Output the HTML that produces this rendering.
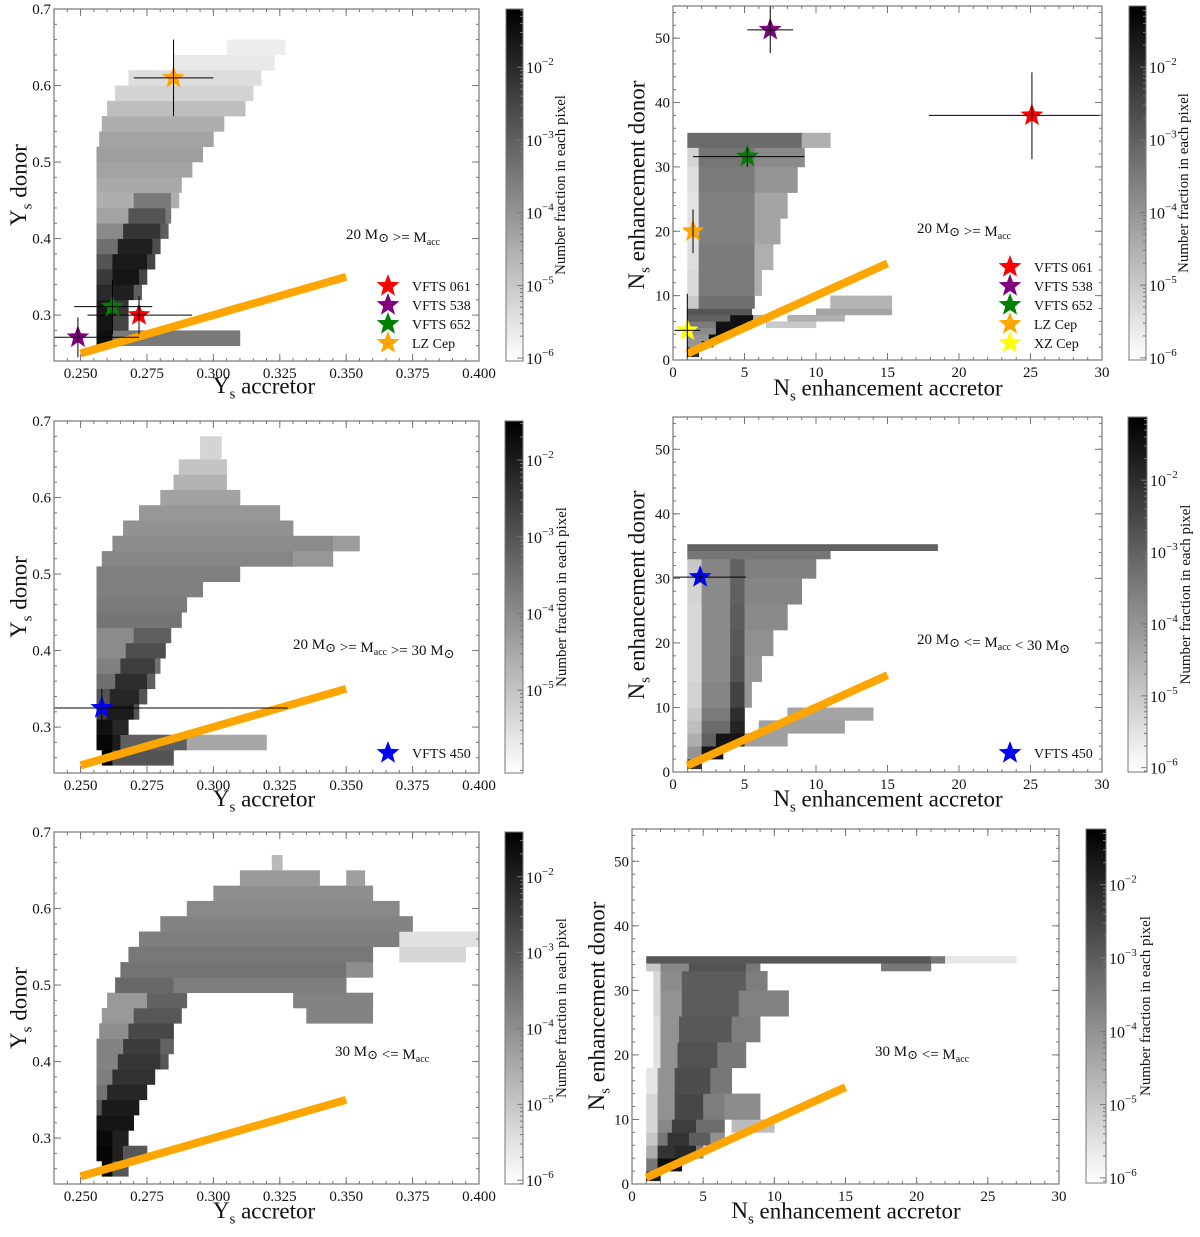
<!DOCTYPE html>
<html><head><meta charset="utf-8"><style>
html,body{margin:0;padding:0;background:#fff;}
svg, svg text{font-family:"Liberation Serif","DejaVu Serif",serif;}
</style></head><body>
<svg id="fig" width="1200" height="1232" viewBox="0 0 1200 1232" font-family="Liberation Serif, DejaVu Serif, serif" xmlns="http://www.w3.org/2000/svg"></svg>
<script>
// ---------- data: heatmap rows [yLo, yHi, [[xLo, xHi, log10 fraction], ...]] ----------
const p1Rows = [
 [0.26,0.28,[[0.256,0.262,-1.5],[0.262,0.31,-3.5]]],
 [0.28,0.30,[[0.256,0.262,-1.6],[0.262,0.268,-2.5]]],
 [0.30,0.32,[[0.256,0.262,-1.7],[0.262,0.268,-2.2]]],
 [0.32,0.34,[[0.256,0.262,-2.0],[0.262,0.270,-1.8],[0.270,0.273,-3.0]]],
 [0.34,0.36,[[0.256,0.262,-2.3],[0.262,0.272,-1.6],[0.272,0.275,-2.5]]],
 [0.36,0.38,[[0.256,0.262,-2.8],[0.262,0.275,-1.7],[0.275,0.278,-2.5]]],
 [0.38,0.40,[[0.256,0.264,-3.3],[0.264,0.277,-1.8],[0.277,0.280,-2.7]]],
 [0.40,0.42,[[0.256,0.266,-3.8],[0.266,0.280,-2.2],[0.280,0.283,-3.0]]],
 [0.42,0.44,[[0.256,0.268,-4.3],[0.268,0.282,-2.8],[0.282,0.284,-3.5]]],
 [0.44,0.46,[[0.256,0.270,-4.5],[0.270,0.284,-3.5],[0.284,0.287,-4.5]]],
 [0.46,0.48,[[0.256,0.288,-4.4]]],
 [0.48,0.50,[[0.256,0.292,-4.3]]],
 [0.50,0.52,[[0.256,0.296,-4.2]]],
 [0.52,0.54,[[0.257,0.300,-4.3]]],
 [0.54,0.56,[[0.258,0.304,-4.5]]],
 [0.56,0.58,[[0.260,0.312,-4.8]]],
 [0.58,0.60,[[0.263,0.315,-5.2]]],
 [0.60,0.62,[[0.268,0.318,-5.4]]],
 [0.62,0.64,[[0.285,0.323,-5.6]]],
 [0.64,0.66,[[0.305,0.327,-5.7]]]
];
const p2Rows = [
 [0.5,2,[[1,1.8,-2.0]]],
 [2,3,[[1,2,-4.0],[2,2.8,-1.5]]],
 [3,4,[[1,2.5,-4.0],[2.5,3.6,-1.5]]],
 [4,5,[[1,3,-3.8],[3,4.4,-1.4]]],
 [5,6,[[1,3,-3.5],[3,5.2,-1.5],[6.5,10,-5.0]]],
 [6,7,[[1,4,-3.0],[4,5.6,-1.5],[5.6,6.6,-4.5],[8,12,-4.5]]],
 [7,8,[[1,5.5,-2.8],[10,15.3,-4.3]]],
 [8,10,[[1,1.8,-5.0],[1.8,5.7,-3.3],[11,15.3,-4.6]]],
 [10,14,[[1,1.8,-5.3],[1.8,5.7,-3.5],[5.7,6.2,-4.5]]],
 [14,18,[[1,1.8,-5.4],[1.8,5.7,-3.5],[5.7,7,-4.5]]],
 [18,22,[[1,1.8,-5.5],[1.8,5.7,-3.6],[5.7,7.5,-4.3]]],
 [22,26,[[1,1.8,-5.5],[1.8,5.7,-3.6],[5.7,8,-4.3]]],
 [26,30,[[1,1.8,-5.4],[1.8,5.7,-3.5],[5.7,8.7,-4.0]]],
 [30,33,[[1,1.8,-5.2],[1.8,5.7,-3.4],[5.7,9.2,-3.8]]],
 [33,35.3,[[1,9,-3.2],[9,11,-4.5]]]
];
const p3Rows = [
 [0.25,0.27,[[0.258,0.262,-1.5],[0.262,0.285,-3.0]]],
 [0.27,0.29,[[0.256,0.262,-1.6],[0.262,0.265,-2.0],[0.265,0.29,-3.2],[0.29,0.32,-4.5]]],
 [0.29,0.31,[[0.256,0.262,-1.8],[0.262,0.268,-2.2]]],
 [0.31,0.33,[[0.256,0.260,-2.5],[0.260,0.270,-2.0],[0.270,0.272,-3.0]]],
 [0.33,0.35,[[0.256,0.261,-3.0],[0.261,0.272,-2.2],[0.272,0.275,-3.0]]],
 [0.35,0.37,[[0.256,0.263,-3.5],[0.263,0.275,-2.3],[0.275,0.278,-3.2]]],
 [0.37,0.39,[[0.256,0.265,-3.8],[0.265,0.278,-2.6],[0.278,0.280,-3.5]]],
 [0.39,0.41,[[0.256,0.267,-4.0],[0.267,0.282,-2.9]]],
 [0.41,0.43,[[0.256,0.270,-4.0],[0.270,0.284,-3.2]]],
 [0.43,0.45,[[0.256,0.288,-3.6]]],
 [0.45,0.47,[[0.256,0.290,-3.7]]],
 [0.47,0.49,[[0.256,0.296,-3.8]]],
 [0.49,0.51,[[0.256,0.310,-3.8]]],
 [0.51,0.53,[[0.258,0.330,-3.9],[0.330,0.345,-4.2]]],
 [0.53,0.55,[[0.262,0.345,-4.0],[0.345,0.355,-4.3]]],
 [0.55,0.57,[[0.266,0.330,-4.1]]],
 [0.57,0.59,[[0.272,0.325,-4.2]]],
 [0.59,0.61,[[0.280,0.310,-4.4]]],
 [0.61,0.63,[[0.285,0.305,-4.7]]],
 [0.63,0.65,[[0.287,0.305,-5.0]]],
 [0.65,0.68,[[0.295,0.303,-5.3]]]
];
const p4Rows = [
 [0.5,2,[[1,2,-2.0]]],
 [2,4,[[1,2,-4.0],[2,3.5,-1.5]]],
 [4,6,[[1,2,-4.5],[2,3,-3.0],[3,5,-1.5],[5,8,-4.2]]],
 [6,8,[[1,2,-4.8],[2,4,-3.2],[4,5,-1.8],[6,12,-4.2]]],
 [8,10,[[1,2,-5.0],[2,4,-3.5],[4,5,-2.0],[8,14,-4.3]]],
 [10,14,[[1,2,-5.2],[2,4,-3.7],[4,5,-2.4],[5,5.5,-4.0]]],
 [14,18,[[1,2,-5.3],[2,4,-3.8],[4,5,-2.7],[5,6.2,-4.0]]],
 [18,22,[[1,2,-5.3],[2,4,-3.8],[4,5,-2.8],[5,7,-3.9]]],
 [22,26,[[1,2,-5.3],[2,4,-3.8],[4,5,-2.9],[5,8,-3.8]]],
 [26,30,[[1,2,-5.2],[2,4,-3.8],[4,5,-3.0],[5,9,-3.7]]],
 [30,33,[[1,2,-5.0],[2,4,-3.7],[4,5,-3.0],[5,10,-3.6]]],
 [33,34.3,[[1,11,-3.4]]],
 [34.3,35.3,[[1,18.5,-3.0]]]
];
const p5Rows = [
 [0.25,0.27,[[0.258,0.262,-1.4],[0.262,0.268,-3.0]]],
 [0.27,0.29,[[0.256,0.262,-1.5],[0.262,0.266,-2.0],[0.266,0.275,-3.0]]],
 [0.29,0.31,[[0.256,0.262,-1.6],[0.262,0.268,-2.0]]],
 [0.31,0.33,[[0.256,0.270,-1.8]]],
 [0.33,0.35,[[0.256,0.258,-3.0],[0.258,0.272,-1.9]]],
 [0.35,0.37,[[0.256,0.260,-3.5],[0.260,0.275,-2.1]]],
 [0.37,0.39,[[0.256,0.262,-3.7],[0.262,0.278,-2.3]]],
 [0.39,0.41,[[0.256,0.264,-3.8],[0.264,0.280,-2.4],[0.280,0.283,-3.0]]],
 [0.41,0.43,[[0.256,0.266,-3.8],[0.266,0.280,-2.5],[0.280,0.285,-3.2]]],
 [0.43,0.45,[[0.257,0.268,-4.0],[0.268,0.285,-2.7]]],
 [0.45,0.47,[[0.258,0.270,-4.2],[0.270,0.288,-3.0],[0.335,0.360,-3.8]]],
 [0.47,0.49,[[0.260,0.275,-4.2],[0.275,0.290,-3.2],[0.330,0.360,-3.8]]],
 [0.49,0.51,[[0.263,0.285,-3.3],[0.285,0.350,-3.7]]],
 [0.51,0.53,[[0.265,0.350,-3.5],[0.350,0.360,-4.0]]],
 [0.53,0.55,[[0.268,0.360,-3.6],[0.370,0.395,-5.3]]],
 [0.55,0.57,[[0.272,0.370,-3.7],[0.370,0.400,-5.5]]],
 [0.57,0.59,[[0.280,0.375,-3.8]]],
 [0.59,0.61,[[0.290,0.370,-3.9]]],
 [0.61,0.63,[[0.300,0.360,-4.0]]],
 [0.63,0.65,[[0.310,0.340,-4.2],[0.350,0.357,-4.3]]],
 [0.65,0.67,[[0.322,0.326,-4.8]]]
];
const p6Rows = [
 [0.5,2,[[1,2,-1.8]]],
 [2,4,[[1,1.8,-3.5],[1.8,3.5,-1.5]]],
 [4,6,[[1,1.8,-4.5],[1.8,3,-2.2],[3,4.5,-2.0],[4.5,5,-3.5]]],
 [6,8,[[1,1.8,-5.0],[1.8,2.5,-3.5],[2.5,4,-2.2],[4,5.5,-3.0],[5.5,6.5,-4.0]]],
 [8,10,[[1,1.8,-5.3],[1.8,2.8,-3.8],[2.8,4.5,-2.4],[4.5,6.5,-3.3],[7,10,-4.8]]],
 [10,14,[[1,1.8,-5.3],[1.8,3,-4.0],[3,5,-2.6],[5,6.5,-3.6],[6.5,9,-3.9]]],
 [14,18,[[1,1.8,-5.6],[1.8,3,-4.0],[3,5.5,-2.7],[5.5,7,-3.5]]],
 [18,22,[[1.5,2,-5.5],[2,3.2,-4.0],[3.2,6,-2.8],[6,8,-3.5]]],
 [22,26,[[1.5,2,-5.5],[2,3.3,-4.0],[3.3,7,-2.9],[7,9,-3.6]]],
 [26,30,[[1.5,2,-5.3],[2,3.5,-4.0],[3.5,7.5,-3.0],[7.5,11,-3.7]]],
 [30,33,[[1.5,2,-5.3],[2,3.5,-3.9],[3.5,8,-3.0],[8,9.5,-3.6]]],
 [33,34.2,[[1,2,-5.0],[2,4,-3.8],[4,8,-2.8],[8,9,-3.5],[17.5,21,-3.5]]],
 [34.2,35.3,[[1,21,-2.9],[21,22,-3.5],[22,27,-5.6]]]
];
// stars: [name, color, x, y, xLo, xHi, yLo, yHi]
const p1Stars = [
 ["VFTS 061","#ff0000",0.272,0.300,0.2526,0.292,0.275,0.325],
 ["VFTS 538","#800080",0.249,0.271,0.240,0.272,0.245,0.297],
 ["VFTS 652","#008000",0.262,0.311,0.2476,0.277,0.275,0.346],
 ["LZ Cep","#ffa500",0.285,0.610,0.270,0.300,0.560,0.660]
];
const p2Stars = [
 ["VFTS 061","#ff0000",25.1,38.0,17.9,30,31.2,44.7],
 ["VFTS 538","#800080",6.8,51.3,5.2,8.4,47.7,55],
 ["VFTS 652","#008000",5.2,31.6,1.4,9.2,30.0,33.0],
 ["LZ Cep","#ffa500",1.4,20.0,1.4,1.4,16.6,23.4],
 ["XZ Cep","#ffff00",1.0,4.6,0.1,1.9,0,10.3]
];
const p3Stars = [["VFTS 450","#0000ff",0.258,0.325,0.240,0.328,0.300,0.350]];
const p4Stars = [["VFTS 450","#0000ff",1.9,30.2,0,5.1,29.5,30.9]];
const yTicksY = [0.3,0.4,0.5,0.6,0.7];
const xTicksY = [0.250,0.275,0.300,0.325,0.350,0.375,0.400];
const yTicksN = [0,10,20,30,40,50];
const xTicksN = [0,5,10,15,20,25,30];
const guideY = [0.25,0.35];
const guideN = [1,15];

const panels = [
 {id:'p1',L:54,R:479,T:9,B:361,x0:0.24,x1:0.40,y0:0.24,y1:0.70,kind:'Y',rows:p1Rows,stars:p1Stars,legend:true,
  cb:{x:506,w:17,T:9,B:361,vmax:-1.2,vmin:-6.04,dec:[-2,-3,-4,-5,-6]},cbl:565,
  ann:{x:346,y:239,t:'ge'},ylab:{x:26,y:185},xlab:{x:264,y:393},legX:388,legY:286},
 {id:'p2',L:673,R:1102,T:6,B:360,x0:0,x1:30,y0:0,y1:55,kind:'N',rows:p2Rows,stars:p2Stars,legend:true,
  cb:{x:1129,w:17,T:6,B:360,vmax:-1.16,vmin:-6.03,dec:[-2,-3,-4,-5,-6]},cbl:1188,
  ann:{x:917,y:233,t:'ge'},ylab:{x:644,y:185},xlab:{x:888,y:395},legX:1010,legY:267},
 {id:'p3',L:54,R:479,T:421,B:773,x0:0.24,x1:0.40,y0:0.24,y1:0.70,kind:'Y',rows:p3Rows,stars:p3Stars,legend:true,
  cb:{x:505,w:18,T:421,B:773,vmax:-1.49,vmin:-6.08,dec:[-2,-3,-4,-5]},cbl:566,
  ann:{x:293,y:649,t:'between1'},ylab:{x:26,y:597},xlab:{x:264,y:806},legX:388,legY:753},
 {id:'p4',L:673,R:1102,T:417,B:772,x0:0,x1:30,y0:0,y1:55,kind:'N',rows:p4Rows,stars:p4Stars,legend:true,
  cb:{x:1128,w:19,T:417,B:772,vmax:-1.12,vmin:-6.06,dec:[-2,-3,-4,-5,-6]},cbl:1190,
  ann:{x:917,y:644,t:'between2'},ylab:{x:644,y:595},xlab:{x:888,y:806},legX:1010,legY:753},
 {id:'p5',L:54,R:479,T:832,B:1184,x0:0.24,x1:0.40,y0:0.24,y1:0.70,kind:'Y',rows:p5Rows,stars:[],legend:false,
  cb:{x:505,w:18,T:832,B:1184,vmax:-1.41,vmin:-6.05,dec:[-2,-3,-4,-5,-6]},cbl:566,
  ann:{x:335,y:1056,t:'le'},ylab:{x:26,y:1008},xlab:{x:264,y:1218},legX:0,legY:0},
 {id:'p6',L:632,R:1059,T:829,B:1184,x0:0,x1:30,y0:0,y1:55,kind:'N',rows:p6Rows,stars:[],legend:false,
  cb:{x:1086,w:20,T:829,B:1183,vmax:-1.24,vmin:-6.07,dec:[-2,-3,-4,-5,-6]},cbl:1150,
  ann:{x:875,y:1056,t:'le'},ylab:{x:604,y:1006},xlab:{x:846,y:1218},legX:0,legY:0}
];

const NS='http://www.w3.org/2000/svg';
const FONT='Liberation Serif, DejaVu Serif, serif';
const svg=document.getElementById('fig');
function mk(tag,attrs,parent){const e=document.createElementNS(NS,tag);for(const k in attrs)e.setAttribute(k,attrs[k]);if(tag==='text')e.setAttribute('font-family',FONT);(parent||svg).appendChild(e);return e;}
function starPath(cx,cy,r){let d='';for(let i=0;i<10;i++){const rr=i%2?r*0.42:r;const a=-Math.PI/2+i*Math.PI/5;d+=(i?'L':'M')+(cx+rr*Math.cos(a)).toFixed(1)+','+(cy+rr*Math.sin(a)).toFixed(1);}return d+'Z';}
function gray(v,c){let t=(v-c.vmin)/(c.vmax-c.vmin);t=Math.max(0,Math.min(1,t));const g=Math.round(255*(1-t));return 'rgb('+g+','+g+','+g+')';}
function sub(textEl,main,s,size){textEl.appendChild(document.createTextNode(main));const ts=mk('tspan',{'font-size':size,'dy':size*0.35},textEl);ts.textContent=s;return ts;}

let gid=0;
panels.forEach(p=>{
 const g=mk('g',{});
 
 
 const sx=v=>p.L+(v-p.x0)/(p.x1-p.x0)*(p.R-p.L);
 const sy=v=>p.B-(v-p.y0)/(p.y1-p.y0)*(p.B-p.T);
 const hm=mk('g',{},g);
 
 
 p.rows.forEach(r=>{r[2].forEach(s=>{
  const x=sx(s[0]),w=sx(s[1])-sx(s[0]),y=sy(r[1]),h=sy(r[0])-sy(r[1]);
  const c=mk('rect',{x:x.toFixed(1),y:y.toFixed(1),width:(w+0.3).toFixed(1),height:(h+0.3).toFixed(1),fill:gray(s[2],p.cb)},hm);
  
  
 });});
 const gd=p.kind==='Y'?guideY:guideN;
 const ln=mk('line',{x1:sx(gd[0]),y1:sy(gd[0]),x2:sx(gd[1]),y2:sy(gd[1]),stroke:'#ffa500','stroke-width':8},g);
 
 
 p.stars.forEach(s=>{
  const sg=mk('g',{},g);
  
  
  mk('path',{d:starPath(sx(s[2]),sy(s[3]),12),fill:s[1]},sg);
  mk('line',{x1:sx(s[4]),y1:sy(s[3]),x2:sx(s[5]),y2:sy(s[3]),stroke:'#000','stroke-width':1},sg);
  mk('line',{x1:sx(s[2]),y1:sy(s[6]),x2:sx(s[2]),y2:sy(s[7]),stroke:'#000','stroke-width':1},sg);
 });
 const fr=mk('rect',{x:p.L,y:p.T,width:p.R-p.L,height:p.B-p.T,fill:'none',stroke:'#777','stroke-width':1.2},g);
 
 
 const xt=p.kind==='Y'?xTicksY:xTicksN, yt=p.kind==='Y'?yTicksY:yTicksN;
 const xmin=p.kind==='Y'?0.005:1, ymin=p.kind==='Y'?0.02:2;
 for(let v=p.x0;v<=p.x1+1e-9;v+=xmin){const X=sx(v);mk('line',{x1:X,y1:p.B,x2:X,y2:p.B-3,stroke:'#777'},g);mk('line',{x1:X,y1:p.T,x2:X,y2:p.T+3,stroke:'#777'},g);}
 for(let v=p.y0;v<=p.y1+1e-9;v+=ymin){const Y=sy(v);mk('line',{x1:p.L,y1:Y,x2:p.L+3,y2:Y,stroke:'#777'},g);mk('line',{x1:p.R,y1:Y,x2:p.R-3,y2:Y,stroke:'#777'},g);}
 xt.forEach(v=>{const X=sx(v);mk('line',{x1:X,y1:p.B,x2:X,y2:p.B-7,stroke:'#777'},g);mk('line',{x1:X,y1:p.T,x2:X,y2:p.T+7,stroke:'#777'},g);
  const t=mk('text',{x:X,y:p.B+17,'text-anchor':'middle','font-size':15,fill:'#111'},g);t.textContent=p.kind==='Y'?v.toFixed(3):String(v);
  });
 yt.forEach(v=>{const Y=sy(v);mk('line',{x1:p.L,y1:Y,x2:p.L+7,y2:Y,stroke:'#777'},g);mk('line',{x1:p.R,y1:Y,x2:p.R-7,y2:Y,stroke:'#777'},g);
  const t=mk('text',{x:p.L-3,y:Y+5,'text-anchor':'end','font-size':15,fill:'#111'},g);t.textContent=p.kind==='Y'?v.toFixed(1):String(v);
  });
 const xl=mk('text',{x:p.xlab.x,y:p.xlab.y,'text-anchor':'middle','font-size':23,fill:'#111'},g);
 
 if(p.kind==='Y'){sub(xl,'Y','s',15);mk('tspan',{dy:-5},xl).textContent=' accretor';}
 else{sub(xl,'N','s',15);mk('tspan',{dy:-5},xl).textContent=' enhancement accretor';}
 const yl=mk('text',{x:p.ylab.x,y:p.ylab.y,'text-anchor':'middle','font-size':23,fill:'#111',transform:'rotate(-90 '+p.ylab.x+' '+p.ylab.y+')'},g);
 
 if(p.kind==='Y'){sub(yl,'Y','s',15);mk('tspan',{dy:-5},yl).textContent=' donor';}
 else{sub(yl,'N','s',15);mk('tspan',{dy:-5},yl).textContent=' enhancement donor';}
 const an=mk('text',{x:p.ann.x,y:p.ann.y,'font-size':15,fill:'#111'},g);
 
 const M=(txt)=>{an.appendChild(document.createTextNode(txt));};
 const sun=()=>{mk('tspan',{'font-size':13,dy:3},an).textContent='\u2299';mk('tspan',{dy:-3},an).textContent='';};
 const acc=()=>{mk('tspan',{'font-size':10,dy:3},an).textContent='acc';mk('tspan',{dy:-3},an).textContent='';};
 if(p.ann.t==='ge'){M('20 M');sun();M(' >= M');acc();}
 else if(p.ann.t==='le'){M('30 M');sun();M(' <= M');acc();}
 else if(p.ann.t==='between1'){M('20 M');sun();M(' >= M');acc();M(' >= 30 M');sun();}
 else {M('20 M');sun();M(' <= M');acc();M(' < 30 M');sun();}
 if(p.legend){p.stars.forEach((s,i)=>{
  const ly=p.legY+i*19;
  const le=mk('g',{},g);
  
  
  mk('path',{d:starPath(p.legX,ly,12),fill:s[1]},le);
  const t=mk('text',{x:p.legX+24,y:ly+5,'font-size':14,fill:'#111'},le);t.textContent=s[0];
 });}
 const c=p.cb; gid++;
 const defs=mk('defs',{},g);
 const lg=mk('linearGradient',{id:'cg'+gid,x1:0,y1:1,x2:0,y2:0},defs);
 for(let k=0;k<=10;k++){const v=c.vmin+(c.vmax-c.vmin)*k/10;mk('stop',{offset:k/10,'stop-color':gray(v,c)},lg);}
 const cr=mk('rect',{x:c.x,y:c.T,width:c.w,height:c.B-c.T,fill:'url(#cg'+gid+')',stroke:'#777','stroke-width':1},g);
 
 const cy=v=>c.T+(c.vmax-v)/(c.vmax-c.vmin)*(c.B-c.T);
 for(let d=-1;d>=-7;d--){for(let m=2;m<10;m++){const v=d+Math.log10(m)-1;if(v<c.vmin||v>c.vmax)continue;const Y=cy(v);mk('line',{x1:c.x+c.w,y1:Y,x2:c.x+c.w-3,y2:Y,stroke:'#777'},g);}}
 c.dec.forEach(d=>{const Y=cy(d);mk('line',{x1:c.x+c.w,y1:Y,x2:c.x+c.w-6,y2:Y,stroke:'#777'},g);
  const t=mk('text',{x:c.x+c.w+3,y:Y+6,'font-size':16,fill:'#111'},g);
  
  t.appendChild(document.createTextNode('10'));mk('tspan',{'font-size':11,dy:-8},t).textContent='\u2212'+(-d);});
 const cl=mk('text',{x:p.cbl,y:(c.T+c.B)/2,'text-anchor':'middle','font-size':15,fill:'#111',transform:'rotate(-90 '+p.cbl+' '+((c.T+c.B)/2)+')'},g);
 cl.textContent='Number fraction in each pixel';
 
});
</script>
</body></html>
